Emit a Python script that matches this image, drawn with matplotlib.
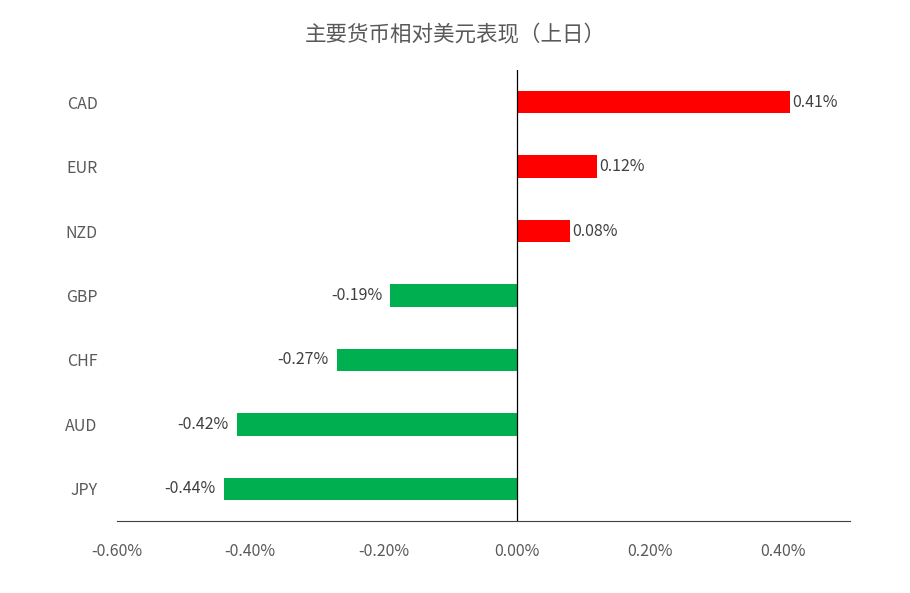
import matplotlib
matplotlib.use("Agg")
import matplotlib.pyplot as plt
from matplotlib.ticker import FuncFormatter

plt.rcParams['font.family'] = ['Noto Sans CJK SC', 'DejaVu Sans']

currencies = ["CAD", "EUR", "NZD", "GBP", "CHF", "AUD", "JPY"]
values = [0.41, 0.12, 0.08, -0.19, -0.27, -0.42, -0.44]
xticks = [-0.6, -0.4, -0.2, 0.0, 0.2, 0.4]

fig = plt.figure(figsize=(9.10, 5.93), dpi=100)
ax = fig.add_axes([117/910, 1-521/593, (850-117)/910, (521-70)/593])
pos = list(range(len(currencies)))
colors = ['#FF0000' if v > 0 else '#00B050' for v in values]
ax.barh(pos, values, height=0.35, color=colors)
ax.set_ylim(len(currencies)-0.5, -0.5)
ax.set_xlim(-0.6, 0.5)
ax.set_yticks(pos)
ax.set_yticklabels(currencies)
ax.set_xticks(xticks)
ax.xaxis.set_major_formatter(FuncFormatter(lambda v, p: f"{v:.2f}%"))
for s in ['top', 'right', 'left']:
    ax.spines[s].set_visible(False)
ax.spines['bottom'].set_color('#404040')
ax.axvline(0, color='black', lw=0.9)
ax.tick_params(axis='both', length=0, labelsize=11.5, colors='#595959')
ax.tick_params(axis='y', pad=14)
ax.tick_params(axis='x', pad=16)
for p, v in zip(pos, values):
    ax.text(v + (0.003 if v > 0 else -0.012), p, f"{v:.2f}%",
            ha='left' if v > 0 else 'right', va='center', fontsize=11.5, color='#404040')
fig.text(0.5, 1-35/593, "主要货币相对美元表现（上日）", ha='center', va='center',
         fontsize=15.5, color='#595959')
fig.savefig("out.png", dpi=100)
